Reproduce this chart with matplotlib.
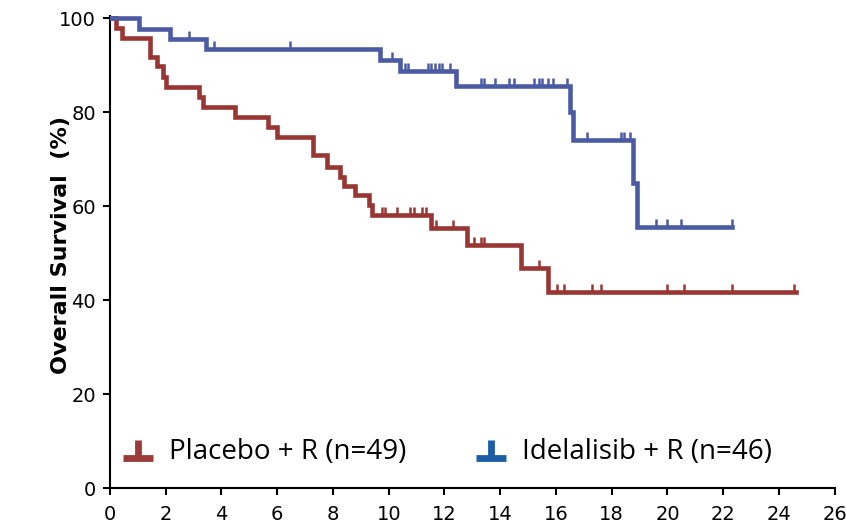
import numpy as np
import matplotlib.pyplot as plt
from matplotlib.path import Path
from matplotlib.lines import Line2D

red = "#983634"
blue = "#4A5AA3"
red_leg = "#9B3A3A"
blue_leg = "#1C5DA6"

# Placebo + R : drop times (months) and survival (%) after each drop
placebo_t = [0, 0.2, 0.43, 1.43, 1.68, 1.9, 2.0, 3.2, 3.33, 4.48, 5.66, 6.0,
             7.28, 7.8, 8.25, 8.4, 8.8, 9.3, 9.4, 11.5, 12.8, 14.75, 15.7]
placebo_s = [100, 98.0, 95.9, 91.8, 89.8, 87.6, 85.4, 83.2, 81.1, 79.1, 76.9, 74.8,
             70.8, 68.4, 66.2, 64.4, 62.3, 60.2, 58.2, 55.3, 51.7, 46.8, 41.8]
placebo_end = 24.6
placebo_cens = [0.15, 9.75, 9.85, 10.3, 10.75, 10.9, 11.2, 11.35, 11.7, 12.3,
                13.05, 13.3, 13.4, 15.4, 16.05, 16.3, 17.3, 17.6, 20.0, 20.6,
                22.3, 24.55]

# Idelalisib + R
idela_t = [0, 1.04, 2.15, 3.44, 9.7, 10.4, 12.4, 16.5, 16.6, 18.75, 18.9]
idela_s = [100, 97.8, 95.7, 93.5, 91.1, 88.7, 85.6, 80.0, 74.2, 65.0, 55.6]
idela_end = 22.3
idela_cens = [2.83, 3.73, 6.45, 10.1, 10.6, 10.7, 11.4, 11.5, 11.65, 11.8, 11.9,
              12.2, 13.3, 13.4, 13.8, 14.3, 14.5, 15.2, 15.4, 15.5, 15.7, 15.9,
              16.4, 17.1, 18.35, 18.45, 18.65, 19.6, 20.0, 20.5, 22.3]

xticks = list(range(0, 27, 2))
yticks = list(range(0, 101, 20))

# small upward censor tick, and the legend's inverted-T symbol
tick_up = Path([(0, 0), (0, 1)], [Path.MOVETO, Path.LINETO])
inv_t = Path([(-1, -0.55), (1, -0.55), (0, -0.55), (0, 0.6)],
             [Path.MOVETO, Path.LINETO, Path.MOVETO, Path.LINETO])


def surv_at(times, surv, x):
    idx = np.searchsorted(times, x, side="right") - 1
    return np.array(surv)[idx]


fig = plt.figure(figsize=(8.46, 5.30), dpi=100)
ax = fig.add_axes([0.1300, 0.0792, 0.8567, 0.8915])

for t, s, end, cens, c in [(placebo_t, placebo_s, placebo_end, placebo_cens, red),
                           (idela_t, idela_s, idela_end, idela_cens, blue)]:
    ax.step(t + [end], s + [s[-1]], where="post", color=c, lw=3.3,
            solid_joinstyle="miter", zorder=3)
    ax.plot(cens, surv_at(t, s, cens), ls="none", marker=tick_up, ms=12,
            mec=c, mfc="none", mew=1.8, zorder=3)

ax.set_xlim(0, 26)
ax.set_ylim(0, 100.6)
ax.set_xticks(xticks)
ax.set_yticks(yticks)
for side in ["top", "right"]:
    ax.spines[side].set_visible(False)
for side in ["left", "bottom"]:
    ax.spines[side].set_linewidth(1.5)
ax.tick_params(direction="out", length=5, width=1.5, labelsize=14)
ax.tick_params(axis="x", pad=7)
ax.tick_params(axis="y", pad=5)

ax.set_ylabel("Overall Survival  (%)", fontsize=16, fontweight="bold",
              family="DejaVu Sans")
ax.yaxis.set_label_coords(-0.054, 0.514)

handles = [Line2D([], [], ls="none", marker=inv_t, ms=22.3, mec=red_leg, mfc="none", mew=4.9),
           Line2D([], [], ls="none", marker=inv_t, ms=22.3, mec=blue_leg, mfc="none", mew=4.9)]
ax.legend(handles, ["Placebo + R (n=49)", "Idelalisib + R (n=46)"], ncol=2,
          loc="center left", bbox_to_anchor=(0.0175, 0.077), frameon=False,
          prop={"family": "Open Sans", "size": 20}, handlelength=1.12,
          handletextpad=0.55, columnspacing=2.5, numpoints=1,
          borderpad=0, borderaxespad=0)

fig.savefig("out.png", dpi=100)
